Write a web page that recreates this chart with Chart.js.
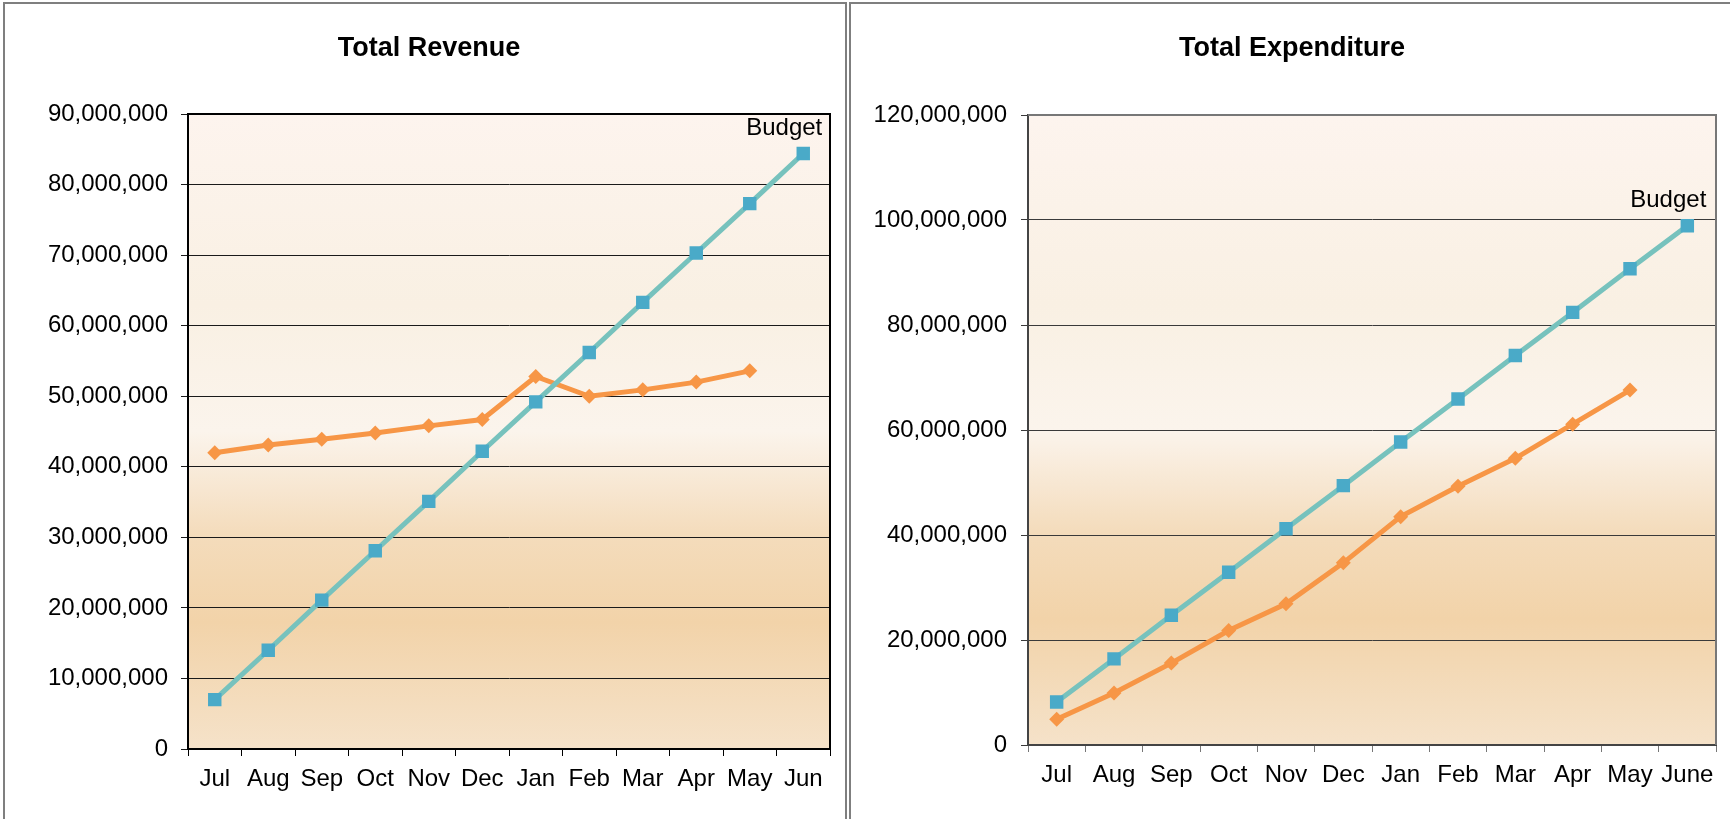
<!DOCTYPE html>
<html>
<head>
<meta charset="utf-8">
<script src="https://cdn.jsdelivr.net/npm/chart.js@4"></script>
<style>
  html, body { margin: 0; padding: 0; background: #fff; overflow: hidden; }
  body { width: 1730px; height: 819px; position: relative; }
  .box { position: absolute; top: 2px; height: 900px; border: 2px solid #7f7f7f; box-sizing: border-box; }
  .wrap { position: absolute; top: 0; height: 819px; }
</style>
</head>
<body>
<div class="box" style="left:3px; width:844px;"></div>
<div class="box" style="left:849px; width:900px;"></div>
<div class="wrap" style="left:0; width:848px;"><canvas id="revenueChart"></canvas></div>
<div class="wrap" style="left:849px; width:881px;"><canvas id="expenseChart"></canvas></div>
<script>
const revMonths = ["Jul", "Aug", "Sep", "Oct", "Nov", "Dec", "Jan", "Feb", "Mar", "Apr", "May", "Jun"];
const expMonths = ["Jul", "Aug", "Sep", "Oct", "Nov", "Dec", "Jan", "Feb", "Mar", "Apr", "May", "June"];

const revenueBudget = [7000000, 14000000, 21100000, 28100000, 35100000, 42200000, 49200000, 56200000, 63300000, 70300000, 77300000, 84400000];
const revenueActual = [42000000, 43100000, 43900000, 44800000, 45800000, 46700000, 52800000, 50000000, 50900000, 52000000, 53600000, null];

const expBudget = [8200000, 16400000, 24700000, 32900000, 41200000, 49400000, 57700000, 65900000, 74200000, 82400000, 90700000, 98900000];
const expActual = [4900000, 9900000, 15600000, 21800000, 26900000, 34700000, 43500000, 49300000, 54600000, 61100000, 67600000, null];

const teal = "#77c2bd";
const blue = "#4aaac8";
const orange = "#f79646";
const fontFamily = "'Liberation Sans', Arial, sans-serif";

Chart.defaults.font.family = fontFamily;
Chart.defaults.color = "#000";

// plot background + top/right frame
const plotFrame = {
  id: "plotFrame",
  beforeDatasetsDraw(chart, args, opts) {
    const { ctx, chartArea: a } = chart;
    const g = ctx.createLinearGradient(0, a.top, 0, a.bottom);
    g.addColorStop(0, "#fdf4ee");
    g.addColorStop(0.3, "#f9f0e3");
    g.addColorStop(0.5, "#fbf4ec");
    g.addColorStop(0.66, "#f4dcbc");
    g.addColorStop(0.8, "#f2d3a9");
    g.addColorStop(1, "#f5e2c9");
    ctx.save();
    ctx.globalCompositeOperation = "destination-over";
    ctx.fillStyle = g;
    ctx.fillRect(a.left, a.top, a.right - a.left, a.bottom - a.top);
    ctx.restore();
  },
  afterDraw(chart, args, opts) {
    const { ctx, chartArea: a } = chart;
    ctx.save();
    ctx.strokeStyle = opts.color;
    ctx.lineWidth = 2;
    ctx.beginPath();
    ctx.moveTo(a.left, a.top);
    ctx.lineTo(a.right, a.top);
    ctx.lineTo(a.right, a.bottom);
    ctx.stroke();
    ctx.restore();
  }
};

// "Budget" tag over the last budget point
const budgetTag = {
  id: "budgetTag",
  afterDatasetsDraw(chart) {
    const meta = chart.getDatasetMeta(0);
    const pt = meta.data[meta.data.length - 1];
    const ctx = chart.ctx;
    ctx.save();
    ctx.font = "24px " + fontFamily;
    ctx.fillStyle = "#000";
    ctx.textAlign = "right";
    ctx.textBaseline = "middle";
    ctx.fillText("Budget", pt.x + 19, pt.y - 25);
    ctx.restore();
  }
};

function makeChart(id, labels, budget, actual, cfg) {
  return new Chart(document.getElementById(id), {
    type: "line",
    data: {
      labels: labels,
      datasets: [
        {
          label: "Budget",
          data: budget,
          borderColor: teal,
          borderWidth: 5,
          pointStyle: "rect",
          pointRadius: 9.5,
          pointBackgroundColor: blue,
          pointBorderColor: blue,
          pointBorderWidth: 0,
          tension: 0,
        },
        {
          label: "Actual",
          data: actual,
          borderColor: orange,
          borderWidth: 5,
          pointStyle: "rectRot",
          pointRadius: 7.5,
          pointBackgroundColor: orange,
          pointBorderColor: orange,
          pointBorderWidth: 0,
          tension: 0,
        },
      ],
    },
    plugins: [plotFrame, budgetTag],
    options: {
      responsive: true,
      maintainAspectRatio: false,
      animation: false,
      layout: { padding: { left: cfg.padLeft, right: cfg.padRight, top: 0, bottom: 0 } },
      plugins: {
        legend: { display: false },
        tooltip: { enabled: false },
        plotFrame: { color: cfg.frame },
        title: {
          display: true,
          text: cfg.title,
          font: { size: 27, weight: "bold" },
          color: "#000",
          padding: { top: 32, bottom: cfg.titleGap },
        },
      },
      scales: {
        x: {
          offset: true,
          grid: { display: true, drawOnChartArea: false, offset: true, tickLength: 7, color: cfg.frame, lineWidth: 1 },
          border: { color: cfg.axis, width: 2 },
          ticks: { font: { size: 24 }, padding: cfg.xPad, maxRotation: 0, autoSkip: false },
          afterFit: (s) => { s.height = cfg.xHeight; },
        },
        y: {
          min: 0,
          max: cfg.max,
          grid: { color: cfg.grid, lineWidth: 1, tickLength: 7 },
          border: { color: cfg.axis, width: 2 },
          ticks: {
            stepSize: cfg.step,
            font: { size: 24 },
            padding: cfg.yPad,
            callback: function (value) {
              return value.toLocaleString("en-US");
            },
          },
          afterFit: (s) => { s.width = 160; },
        },
      },
    },
  });
}

makeChart("revenueChart", revMonths, revenueBudget, revenueActual, {
  title: "Total Revenue", max: 90000000, step: 10000000,
  padLeft: 28, padRight: 18, titleGap: 49.6, xHeight: 70, xPad: 9, yPad: 13,
  frame: "#000", axis: "#000", grid: "#1a1a1a",
});

makeChart("expenseChart", expMonths, expBudget, expActual, {
  title: "Total Expenditure", max: 120000000, step: 20000000,
  padLeft: 19, padRight: 14, titleGap: 50.6, xHeight: 74, xPad: 9, yPad: 14,
  frame: "#777", axis: "#444", grid: "#3a3a3a",
});
</script>
</body>
</html>
